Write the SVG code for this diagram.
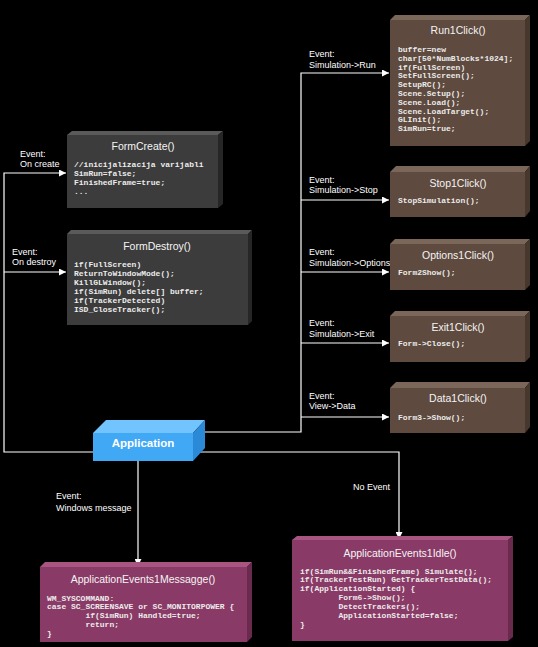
<svg xmlns="http://www.w3.org/2000/svg" width="538" height="647" viewBox="0 0 538 647">
<defs>
<marker id="arr" markerUnits="userSpaceOnUse" markerWidth="8" markerHeight="7" refX="7" refY="3.5" orient="auto">
<path d="M0,0 L7,3.5 L0,7 z" fill="#ffffff"/>
</marker>
</defs>
<style>
.conn{stroke:#ffffff;stroke-width:1.2;fill:none}
.lbl{font-family:"Liberation Sans",Arial,sans-serif;font-size:9px;fill:#ffffff}
.ttl{font-family:"Liberation Sans",Arial,sans-serif;font-size:10.5px;fill:#f4f4f4;text-anchor:middle}
.code{font-family:"Liberation Mono","Courier New",monospace;font-size:8px;font-weight:bold;fill:#ececec;white-space:pre}
.gF{fill:#3c3c3c}.gT{fill:#5a5a5a}.gR{fill:#262626}
.bF{fill:#5e4a3e}.bT{fill:#7b665a}.bR{fill:#47372d}
.pF{fill:#8a3a66}.pT{fill:#a85582}.pR{fill:#6a2a4e}
.aF{fill:#40a8f4}.aT{fill:#72c4ff}.aR{fill:#2a8ad8}
.app{font-family:"Liberation Sans",Arial,sans-serif;font-size:11.5px;font-weight:bold;fill:#ffffff;text-anchor:middle}
</style>
<rect x="0" y="0" width="538" height="647" fill="#000000"/>

<g id="connectors">
<polyline class="conn" points="93,452 4,452 4,173 66,173" marker-end="url(#arr)"/>
<line class="conn" x1="4" y1="272" x2="66" y2="272" marker-end="url(#arr)"/>
<polyline class="conn" points="205,432 301,432 301,73 389,73" marker-end="url(#arr)"/>
<line class="conn" x1="301" y1="200" x2="389" y2="200" marker-end="url(#arr)"/>
<line class="conn" x1="301" y1="272" x2="389" y2="272" marker-end="url(#arr)"/>
<line class="conn" x1="301" y1="343" x2="389" y2="343" marker-end="url(#arr)"/>
<line class="conn" x1="301" y1="417" x2="389" y2="417" marker-end="url(#arr)"/>
<polyline class="conn" points="193,452 399,452 399,539" marker-end="url(#arr)"/>
<line class="conn" x1="138" y1="461" x2="138" y2="566" marker-end="url(#arr)"/>
<text class="lbl" x="20" y="157">Event:</text>
<text class="lbl" x="20" y="167">On create</text>
<text class="lbl" x="12" y="255">Event:</text>
<text class="lbl" x="12" y="265">On destroy</text>
<text class="lbl" x="309" y="57">Event:</text>
<text class="lbl" x="309" y="67.5">Simulation-&gt;Run</text>
<text class="lbl" x="309" y="183">Event:</text>
<text class="lbl" x="309" y="193">Simulation-&gt;Stop</text>
<text class="lbl" x="309" y="255">Event:</text>
<text class="lbl" x="309" y="265.5">Simulation-&gt;Options</text>
<text class="lbl" x="309" y="326">Event:</text>
<text class="lbl" x="309" y="337">Simulation-&gt;Exit</text>
<text class="lbl" x="309" y="399">Event:</text>
<text class="lbl" x="309" y="409">View-&gt;Data</text>
<text class="lbl" x="56" y="498.5">Event:</text>
<text class="lbl" x="56" y="510.5">Windows message</text>
<text class="lbl" x="353" y="489.5">No Event</text>
</g>

<g id="FormCreate">
<polygon class="gT" points="67,135 72,131 223,131 218,135"/>
<polygon class="gR" points="218,135 223,131 223,204 218,208"/>
<rect class="gF" x="67" y="135" width="151" height="73"/>
<text class="ttl" x="143" y="150">FormCreate()</text>
<text class="code" x="74" y="167">//inicijalizacija varijabli</text>
<text class="code" x="74" y="176">SimRun=false;</text>
<text class="code" x="74" y="185">FinishedFrame=true;</text>
<text class="code" x="74" y="194">...</text>
</g>

<g id="FormDestroy">
<polygon class="gT" points="67,234 71,230 252,230 248,234"/>
<polygon class="gR" points="248,234 252,230 252,321 248,325"/>
<rect class="gF" x="67" y="234" width="181" height="91"/>
<text class="ttl" x="157" y="250">FormDestroy()</text>
<text class="code" x="74" y="267">if(FullScreen)</text>
<text class="code" x="74" y="276">ReturnToWindowMode();</text>
<text class="code" x="74" y="285">KillGLWindow();</text>
<text class="code" x="74" y="294">if(SimRun) delete[] buffer;</text>
<text class="code" x="74" y="303">if(TrackerDetected)</text>
<text class="code" x="74" y="312">ISD_CloseTracker();</text>
</g>

<g id="Run1Click">
<polygon class="bT" points="390,20 395,15 530,15 525,20"/>
<polygon class="bR" points="525,20 530,15 530,141 525,146"/>
<rect class="bF" x="390" y="20" width="135" height="126"/>
<text class="ttl" x="458" y="34">Run1Click()</text>
<text class="code" x="398" y="52">buffer=new</text>
<text class="code" x="398" y="60.8">char[50*NumBlocks*1024];</text>
<text class="code" x="398" y="69.6">if(FullScreen)</text>
<text class="code" x="398" y="78.4">SetFullScreen();</text>
<text class="code" x="398" y="87.2">SetupRC();</text>
<text class="code" x="398" y="96">Scene.Setup();</text>
<text class="code" x="398" y="104.8">Scene.Load();</text>
<text class="code" x="398" y="113.6">Scene.LoadTarget();</text>
<text class="code" x="398" y="122.4">GLInit();</text>
<text class="code" x="398" y="131.2">SimRun=true;</text>
</g>

<g id="Stop1Click">
<polygon class="bT" points="390,172 396,166 530,166 525,172"/>
<polygon class="bR" points="525,172 530,166 530,211 525,217"/>
<rect class="bF" x="390" y="172" width="135" height="45"/>
<text class="ttl" x="458" y="187">Stop1Click()</text>
<text class="code" x="398" y="203">StopSimulation();</text>
</g>

<g id="Options1Click">
<polygon class="bT" points="390,244 395,239 530,239 525,244"/>
<polygon class="bR" points="525,244 530,239 530,285 525,290"/>
<rect class="bF" x="390" y="244" width="135" height="46"/>
<text class="ttl" x="458" y="259">Options1Click()</text>
<text class="code" x="398" y="275">Form2Show();</text>
</g>

<g id="Exit1Click">
<polygon class="bT" points="390,316 395,311 530,311 525,316"/>
<polygon class="bR" points="525,316 530,311 530,357 525,362"/>
<rect class="bF" x="390" y="316" width="135" height="46"/>
<text class="ttl" x="458" y="331">Exit1Click()</text>
<text class="code" x="398" y="346">Form-&gt;Close();</text>
</g>

<g id="Data1Click">
<polygon class="bT" points="390,388 396,382 530,382 525,388"/>
<polygon class="bR" points="525,388 530,382 530,427 525,433"/>
<rect class="bF" x="390" y="388" width="135" height="45"/>
<text class="ttl" x="458" y="402">Data1Click()</text>
<text class="code" x="398" y="420">Form3-&gt;Show();</text>
</g>

<g id="Application">
<polygon class="aT" points="93,433 106,420 205,420 193,433"/>
<polygon class="aR" points="193,433 205,420 205,448 193,461"/>
<rect class="aF" x="93" y="433" width="100" height="28"/>
<text class="app" x="143" y="447">Application</text>
</g>

<g id="ApplicationEvents1Messagge">
<polygon class="pT" points="40,567 45,562 252,562 247,567"/>
<polygon class="pR" points="247,567 252,562 252,637 247,642"/>
<rect class="pF" x="40" y="567" width="207" height="75"/>
<text class="ttl" x="143" y="583">ApplicationEvents1Messagge()</text>
<text class="code" x="47" y="600.5">WM_SYSCOMMAND:</text>
<text class="code" x="47" y="609.3">case SC_SCREENSAVE or SC_MONITORPOWER {</text>
<text class="code" x="47" y="618.1">        if(SimRun) Handled=true;</text>
<text class="code" x="47" y="626.9">        return;</text>
<text class="code" x="47" y="635.7">}</text>
</g>

<g id="ApplicationEvents1Idle">
<polygon class="pT" points="292,540 297,536 513,536 508,540"/>
<polygon class="pR" points="508,540 513,536 513,637 508,641"/>
<rect class="pF" x="292" y="540" width="216" height="101"/>
<text class="ttl" x="400" y="557">ApplicationEvents1Idle()</text>
<text class="code" x="300" y="573.5">if(SimRun&amp;&amp;FinishedFrame) Simulate();</text>
<text class="code" x="300" y="582.4">if(TrackerTestRun) GetTrackerTestData();</text>
<text class="code" x="300" y="591.3">if(ApplicationStarted) {</text>
<text class="code" x="300" y="600.2">        Form6-&gt;Show();</text>
<text class="code" x="300" y="609.1">        DetectTrackers();</text>
<text class="code" x="300" y="618">        ApplicationStarted=false;</text>
<text class="code" x="300" y="627">}</text>
</g>
</svg>
